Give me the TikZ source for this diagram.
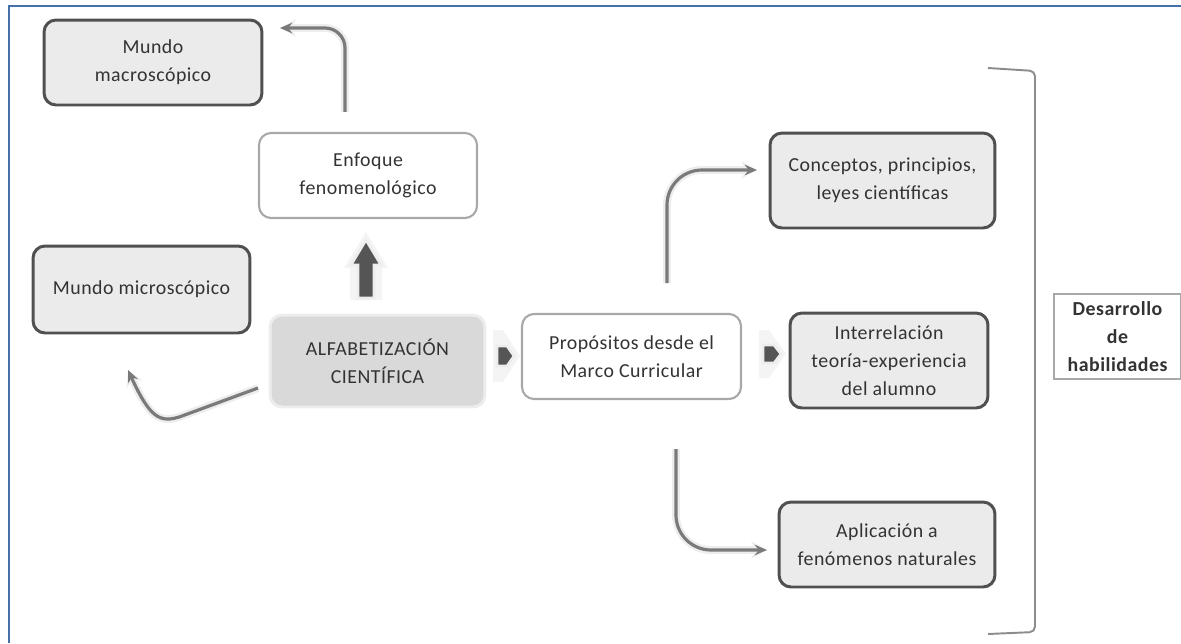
\documentclass[tikz,border=0pt]{standalone}
\usepackage{fontspec}
\setmainfont{Carlito}[LetterSpace=2.5]
\usetikzlibrary{arrows.meta,calc}
\definecolor{frameblue}{HTML}{4670A8}
\definecolor{boxfill}{HTML}{EBEBEB}
\definecolor{boxline}{HTML}{505050}
\definecolor{lightline}{HTML}{A8A8A8}
\definecolor{corefill}{HTML}{D9D9D9}
\definecolor{glow}{HTML}{EDEDED}
\definecolor{arrowdark}{HTML}{555555}
\definecolor{arrowgray}{HTML}{7A7A7A}
\definecolor{txt}{HTML}{333333}
\definecolor{bracketgray}{HTML}{8C8C8C}
\begin{document}
\begin{tikzpicture}[x=0.02cm,y=-0.02cm,
  every node/.style={font=\fontsize{11.3}{16}\selectfont, text=txt, align=center},
  darkbox/.style={draw=boxline, fill=boxfill, line width=1.7pt, rounded corners=0.24cm, inner sep=0pt},
  lightbox/.style={draw=lightline, fill=white, line width=1.2pt, rounded corners=0.24cm, inner sep=0pt},
  corebox/.style={draw=glow, fill=corefill, line width=1.7pt, rounded corners=0.24cm, inner sep=0pt},
  flowline/.style={draw=arrowgray, line width=1.8pt, -{Stealth[length=7pt,width=6pt]}},
  flowglow/.style={draw=glow, line width=4.5pt, -{Stealth[length=9pt,width=10pt]}},
  blockarrow/.style={fill=arrowdark, draw=glow, line width=1.5pt, line join=miter},
  haloarrow/.style={fill=glow!60!white, draw=none}
]
\useasboundingbox (0,0) rectangle (1181,643);

% outer frame (top and left edges)
\draw[frameblue, line width=1.4pt] (9,643) -- (9,6) -- (1181,6);

% concept boxes
\node[darkbox, minimum width=4.36cm, minimum height=1.70cm] (macro) at (153,62.5) {Mundo\\macroscópico};
\node[lightbox, minimum width=4.36cm, minimum height=1.70cm] (enf) at (368,175.5) {Enfoque\\fenomenológico};
\node[darkbox, minimum width=4.34cm, minimum height=1.74cm] (micro) at (141.5,289.5) {Mundo microscópico};
\node[corebox, minimum width=4.30cm, minimum height=1.84cm] (alf) at (377.5,361) {ALFABETIZACIÓN\\CIENTÍFICA};
\node[lightbox, minimum width=4.38cm, minimum height=1.70cm] (prop) at (631.5,356.5) {Propósitos desde el\\Marco Curricular};
\node[darkbox, minimum width=4.50cm, minimum height=1.90cm] (conc) at (882.5,180.5) {Conceptos, principios,\\leyes científicas};
\node[darkbox, minimum width=3.96cm, minimum height=1.90cm] (inter) at (889,360.5) {Interrelación\\teoría-experiencia\\del alumno};
\node[darkbox, minimum width=4.32cm, minimum height=1.70cm] (apl) at (887,544.5) {Aplicación a\\fenómenos naturales};
\node[draw=lightline, fill=white, line width=0.8pt, minimum width=2.54cm, minimum height=1.70cm, inner sep=0pt,
      font=\fontsize{11.3}{16}\selectfont\bfseries] (des) at (1117.5,336.5) {Desarrollo\\de\\habilidades};

% bracket grouping the outcomes
\draw[bracketgray, line width=1.1pt, rounded corners=3pt] (988,68) -- (1035,71) -- (1035,632) -- (988,634);

% block arrows
\fill[haloarrow] (350,300) -- (350,268) -- (344,268) -- (366,232) -- (388,268) -- (382,268) -- (382,300) -- cycle;
\filldraw[blockarrow] (358,298) -- (358,265) -- (351,265) -- (366,240) -- (381,265) -- (374,265) -- (374,298) -- cycle;

\fill[haloarrow] (493,330) -- (503,330) -- (520,356) -- (503,382) -- (493,382) -- cycle;
\filldraw[blockarrow] (497,346) -- (507,346) -- (514,356) -- (507,366) -- (497,366) -- cycle;

\fill[haloarrow] (759,330) -- (769,330) -- (786,354) -- (769,378) -- (759,378) -- cycle;
\filldraw[blockarrow] (763,345) -- (774,345) -- (781,354) -- (774,363) -- (763,363) -- cycle;

% curved connectors
\coordinate (e1) at ($(enf.north)+(-23,-20)$);
\coordinate (e2) at (280,28);
\draw[flowglow, rounded corners=0.4cm] (e1) |- (e2);
\draw[flowline, rounded corners=0.4cm] (e1) |- (e2);

\coordinate (a1) at (258,388);
\coordinate (a2) at (128,370);
\draw[flowglow] (a1) -- (182,416) .. controls (160,424) and (150,418) .. (a2);
\draw[flowline] (a1) -- (182,416) .. controls (160,424) and (150,418) .. (a2);

\coordinate (p1) at (667,283);
\coordinate (p2) at (757,170);
\draw[flowglow, rounded corners=0.7cm] (p1) |- (p2);
\draw[flowline, rounded corners=0.7cm] (p1) |- (p2);

\coordinate (q1) at (676,449);
\coordinate (q2) at (767,550);
\draw[flowglow, rounded corners=0.7cm] (q1) |- (q2);
\draw[flowline, rounded corners=0.7cm] (q1) |- (q2);
\end{tikzpicture}
\end{document}
